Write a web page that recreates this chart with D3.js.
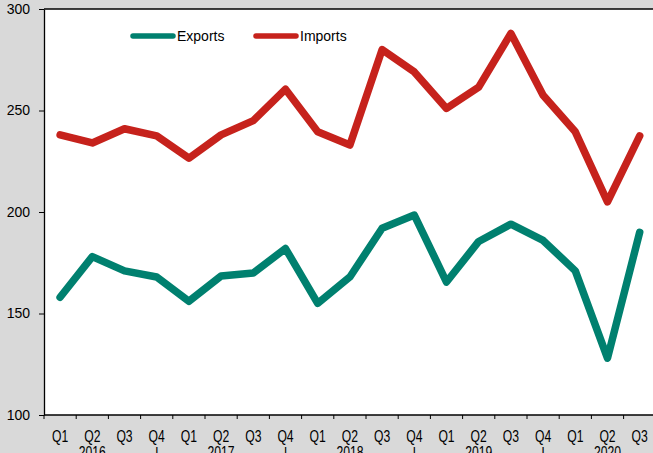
<!DOCTYPE html>
<html>
<head>
<meta charset="utf-8">
<script src="https://cdn.jsdelivr.net/npm/d3@7"></script>
<style>
  body { margin: 0; background: #d9d9d9; }
  svg { display: block; font-family: "Liberation Sans", Arial, sans-serif; }
</style>
</head>
<body>
<svg id="chart" width="653" height="453"></svg>
<script>
// quarter labels along the x axis, 2016 Q1 .. 2020 Q3
const quarters = ["Q1","Q2","Q3","Q4","Q1","Q2","Q3","Q4","Q1","Q2","Q3","Q4","Q1","Q2","Q3","Q4","Q1","Q2","Q3"];
const years = ["2016","2017","2018","2019","2020"];

// values
const exportsData = [158,178,171,168,156,168.5,170,182,155,168,192,198.5,165.5,185.5,194,186,171,128,190];
const importsData = [238,234,241,237.5,226.5,238,245,260.5,239.5,233,280,269,251,261.5,288,257.5,239.5,205,237.5];

const yTicks = [100,150,200,250,300];

function draw() {
    let svg = d3.select("#chart");
    let left = 44, top = 9, bottom = 415, right = 653;
    let band = 32.2;

    let x = d3.scaleBand()
        .domain(d3.range(quarters.length))
        .range([left, left + band * quarters.length]);

    let y = d3.scaleLinear()
        .domain([100, 300])
        .range([bottom, top]);

    // white plot area
    svg.append("rect")
        .attr("x", left).attr("y", top)
        .attr("width", right - left).attr("height", bottom - top)
        .attr("fill", "#fff");

    // top border
    svg.append("line")
        .attr("x1", left).attr("x2", right)
        .attr("y1", top).attr("y2", top)
        .attr("stroke", "#000").attr("stroke-width", 1.3);

    // y axis
    let yAxis = svg.append("g")
        .attr("transform", "translate(" + left + ",0)")
        .call(d3.axisLeft(y).tickValues(yTicks).tickSize(5).tickPadding(9).tickSizeOuter(0));
    yAxis.select(".domain").attr("stroke-width", 1.3);
    yAxis.selectAll("text").style("font-size", "14px").attr("fill", "#000");

    // x axis: ticks sit on band boundaries, labels in band centres
    let xAxis = svg.append("g").attr("transform", "translate(0," + bottom + ")");
    xAxis.append("line")
        .attr("x1", left).attr("x2", right)
        .attr("stroke", "#000").attr("stroke-width", 1.3);
    xAxis.selectAll(".tk")
        .data(d3.range(quarters.length + 1))
        .join("line")
        .attr("x1", d => left + d * x.bandwidth())
        .attr("x2", d => left + d * x.bandwidth())
        .attr("y1", 0).attr("y2", 4)
        .attr("stroke", "#000");
    xAxis.selectAll(".ql")
        .data(quarters)
        .join("text")
        .attr("transform", (d, i) => "translate(" + (x(i) + x.bandwidth() / 2) + ",27) scale(0.76,1)")
        .attr("text-anchor", "middle")
        .style("font-size", "16px")
        .text(d => d);

    // year labels under Q2, separators under Q4
    xAxis.selectAll(".yl")
        .data(years)
        .join("text")
        .attr("transform", (d, i) => "translate(" + (x(i * 4 + 1) + x.bandwidth() / 2) + ",43) scale(0.76,1)")
        .attr("text-anchor", "middle")
        .style("font-size", "16px")
        .text(d => d);
    xAxis.selectAll(".sep")
        .data(d3.range(years.length - 1))
        .join("text")
        .attr("transform", d => "translate(" + (x(d * 4 + 3) + x.bandwidth() / 2) + ",43)")
        .attr("text-anchor", "middle")
        .style("font-size", "14px")
        .text("|");

    let line = d3.line()
        .x((d, i) => x(i) + x.bandwidth() / 2)
        .y(d => y(d));

    let series = [
        {name: "Exports", values: exportsData, color: "#00806f"},
        {name: "Imports", values: importsData, color: "#c6221c"}
    ];

    let plot = svg.append("g");
    plot.selectAll("path")
        .data(series)
        .join("path")
        .attr("d", d => line(d.values))
        .attr("fill", "none")
        .attr("stroke", d => d.color)
        .attr("stroke-width", 7.5)
        .attr("stroke-linejoin", "round")
        .attr("stroke-linecap", "round");

    // legend
    let legend = svg.append("g").attr("transform", "translate(133,36)");
    let item = legend.selectAll("g")
        .data(series)
        .join("g")
        .attr("transform", (d, i) => "translate(" + (i * 123) + ",0)");
    item.append("line")
        .attr("x1", 0).attr("x2", 40)
        .attr("stroke", d => d.color)
        .attr("stroke-width", 5.5)
        .attr("stroke-linecap", "round");
    item.append("text")
        .attr("x", 44).attr("y", 5)
        .style("font-size", "14px")
        .text(d => d.name);
}

draw();
</script>
</body>
</html>
